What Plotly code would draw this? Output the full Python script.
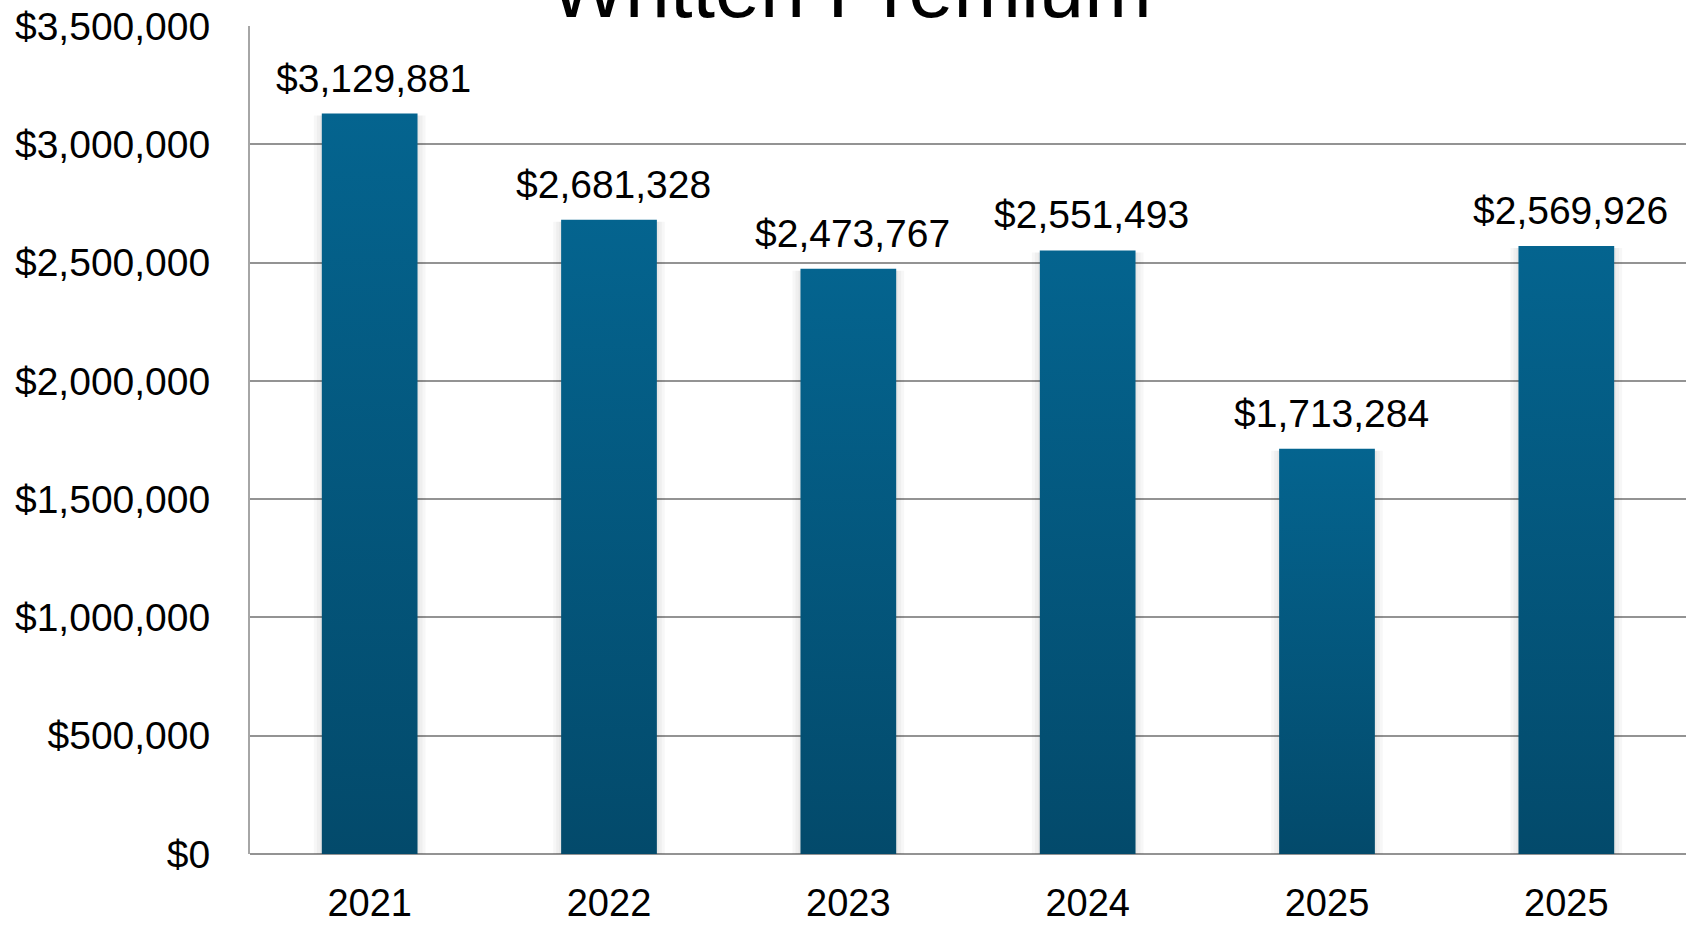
import plotly.graph_objects as go

# Written premium by policy year
years = ["2021", "2022", "2023", "2024", "2025", "2025"]
premium = [3129881, 2681328, 2473767, 2551493, 1713284, 2569926]

y_max = 3500000
y_step = 500000

W, H = 1686, 925
M_L, M_R, M_T, M_B = 250, 0, 26, 71
BAR_HALF = 0.2          # half bar width in category units
FONT = "Liberation Sans, Arial, sans-serif"
TOP_COLOR = "#04648F"
BOTTOM_COLOR = "#034A6B"

plot_w = W - M_L - M_R
plot_h = H - M_T - M_B
px_x = len(years) / plot_w      # category units per pixel
px_y = y_max / plot_h           # value units per pixel

fig = go.Figure()

# soft drop shadow behind each bar
for i, v in enumerate(premium):
    for k in (8, 5, 2):
        dx = k * px_x
        xs = [i - BAR_HALF - dx, i + BAR_HALF + dx, i + BAR_HALF + dx, i - BAR_HALF - dx, i - BAR_HALF - dx]
        ys = [-3 * px_y, -3 * px_y, v - 2 * px_y, v - 2 * px_y, -3 * px_y]
        fig.add_trace(go.Scatter(
            x=xs, y=ys, mode="lines", fill="toself",
            fillcolor="rgba(0,0,0,0.03)", line=dict(width=0),
            hoverinfo="skip", showlegend=False,
        ))

# bars with a vertical colour gradient
for i, v in enumerate(premium):
    xs = [i - BAR_HALF, i + BAR_HALF, i + BAR_HALF, i - BAR_HALF, i - BAR_HALF]
    ys = [0, 0, v, v, 0]
    fig.add_trace(go.Scatter(
        x=xs, y=ys, mode="lines", fill="toself",
        fillgradient=dict(type="vertical",
                          colorscale=[[0, BOTTOM_COLOR], [1, TOP_COLOR]]),
        line=dict(width=0), hoverinfo="skip", showlegend=False,
    ))

# value labels above the bars
for i, v in enumerate(premium):
    fig.add_annotation(
        x=i, y=v, xref="x", yref="y",
        text=f"${v:,.0f}", showarrow=False,
        xanchor="center", yanchor="bottom", yshift=12, xshift=4,
        font=dict(family=FONT, size=39, color="#000000"),
    )

# chart title
fig.add_annotation(
    x=(851 - M_L) / plot_w, y=1, xref="paper", yref="paper",
    text="Written Premium", showarrow=False,
    xanchor="center", yanchor="bottom", yshift=-10,
    font=dict(family=FONT, size=81, color="#000000"),
)

fig.update_layout(
    width=W, height=H,
    margin=dict(l=M_L, r=M_R, t=M_T, b=M_B, pad=0, autoexpand=False),
    paper_bgcolor="#FFFFFF", plot_bgcolor="#FFFFFF",
    showlegend=False,
    font=dict(family=FONT, size=39, color="#000000"),
)

fig.update_xaxes(
    range=[-0.5, len(years) - 0.5],
    tickmode="array", tickvals=list(range(len(years))), ticktext=years,
    showgrid=False, zeroline=False,
    showline=False, ticks="", ticklabelstandoff=23,
    tickfont=dict(family=FONT, size=38, color="#000000"),
    automargin=False, fixedrange=True,
)

fig.update_yaxes(
    range=[0, y_max], dtick=y_step, tick0=0,
    tickformat="$,.0f",
    showgrid=True, gridcolor="#939393", gridwidth=2,
    zeroline=True, zerolinecolor="#939393", zerolinewidth=2,
    showline=True, linecolor="#A6A6A6", linewidth=2,
    ticks="", ticklabelstandoff=30,
    tickfont=dict(family=FONT, size=39, color="#000000"),
    automargin=False, fixedrange=True,
)

fig.write_html("out.html")
